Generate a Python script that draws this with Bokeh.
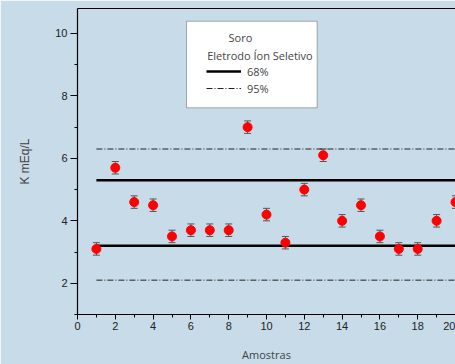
from bokeh.plotting import figure
from bokeh.models import (Range1d, FixedTicker, LinearAxis, Whisker, TeeHead,
                          ColumnDataSource, Legend, LegendItem, BoxAnnotation, Label)
from bokeh.embed import file_html
from bokeh.resources import INLINE

# ---- data ----
amostras = list(range(1, 21))
k_meq = [3.1, 5.7, 4.6, 4.5, 3.5, 3.7, 3.7, 3.7, 7.0, 4.2,
         3.3, 5.0, 6.1, 4.0, 4.5, 3.5, 3.1, 3.1, 4.0, 4.6]
erro = [0.2] * 20
lim68 = [3.2, 5.3]
lim95 = [2.1, 6.3]
x_ticks = [0, 2, 4, 6, 8, 10, 12, 14, 16, 18, 20]
x_minor = [1, 3, 5, 7, 9, 11, 13, 15, 17, 19]
y_ticks = [2, 4, 6, 8, 10]
y_minor = [1, 3, 5, 7, 9]

BG = "#c7dbe8"

p = figure(width=455, height=364, output_backend="svg", toolbar_location=None,
           x_range=Range1d(0, 20.0), y_range=Range1d(1, 10.8),
           min_border_left=77, min_border_right=0, min_border_top=8,
           min_border_bottom=47)
p.background_fill_color = BG
p.border_fill_color = BG
p.outline_line_color = None
p.grid.visible = False

# axes styling
for ax in (p.xaxis[0], p.yaxis[0]):
    ax.axis_line_color = "black"
    ax.axis_line_width = 1.2
    ax.major_tick_line_color = "black"
    ax.minor_tick_line_color = "black"
    ax.major_tick_in = 0
    ax.minor_tick_in = 0
    ax.major_label_text_font = "Liberation Sans"
    ax.major_label_text_font_size = "11px"
    ax.major_label_text_color = "#222222"

p.xaxis[0].ticker = FixedTicker(ticks=x_ticks, minor_ticks=x_minor)
p.xaxis[0].major_tick_out = 5
p.xaxis[0].minor_tick_out = 3
p.xaxis[0].major_label_standoff = 2
p.xaxis[0].axis_label = "Amostras"
p.xaxis[0].axis_label_text_font = "Open Sans"
p.xaxis[0].axis_label_text_font_style = "normal"
p.xaxis[0].axis_label_text_font_size = "11px"
p.xaxis[0].axis_label_standoff = 14

p.yaxis[0].ticker = FixedTicker(ticks=y_ticks, minor_ticks=y_minor)
p.yaxis[0].major_tick_out = 7
p.yaxis[0].minor_tick_out = 3
p.yaxis[0].major_label_standoff = 3
p.yaxis[0].axis_label = "K mEq/L"
p.yaxis[0].axis_label_text_font = "Liberation Sans"
p.yaxis[0].axis_label_text_font_style = "normal"
p.yaxis[0].axis_label_text_font_size = "12px"
p.yaxis[0].axis_label_standoff = 20

top_axis = LinearAxis(ticker=FixedTicker(ticks=[]), major_label_text_font_size="0px",
                      major_label_standoff=0, axis_line_color="black",
                      axis_line_width=1.2, major_tick_line_color=None,
                      minor_tick_line_color=None)
p.add_layout(top_axis, "above")

# limit lines
x0 = min(amostras)
x1 = max(amostras) + 1
src68 = ColumnDataSource(dict(x0=[x0] * len(lim68), x1=[x1] * len(lim68), y=lim68))
src95 = ColumnDataSource(dict(x0=[x0] * len(lim95), x1=[x1] * len(lim95), y=lim95))
r68 = p.segment(x0="x0", x1="x1", y0="y", y1="y", source=src68,
                line_color="black", line_width=2.6)
r95 = p.segment(x0="x0", x1="x1", y0="y", y1="y", source=src95,
                line_color="#222222", line_width=1, line_dash="6 2 1 2")

# error bars
src = ColumnDataSource(dict(x=amostras, y=k_meq,
                            up=[v + e for v, e in zip(k_meq, erro)],
                            lo=[v - e for v, e in zip(k_meq, erro)]))
wh = Whisker(base="x", upper="up", lower="lo", source=src,
             line_color="#555555", line_width=1,
             upper_head=TeeHead(size=7, line_color="#555555", line_width=1),
             lower_head=TeeHead(size=7, line_color="#555555", line_width=1))
p.add_layout(wh)

p.scatter(x="x", y="y", source=src, size=9, fill_color="red", line_color="red")

# legend box
box = BoxAnnotation(left=5.77, right=12.68, top=10.39, bottom=7.62,
                    fill_color="white", fill_alpha=1.0,
                    line_color="black", line_width=1)
p.add_layout(box)
p.add_layout(Label(x=7.99, y=9.88, text="Soro", text_baseline="middle",
                   text_font="Open Sans", text_font_size="11px"))
p.add_layout(Label(x=6.86, y=9.31, text="Eletrodo Íon Seletivo", text_baseline="middle",
                   text_font="Open Sans", text_font_size="11px"))

legend = Legend(items=[LegendItem(label="68%", renderers=[r68]),
                       LegendItem(label="95%", renderers=[r95])],
                location=(129, 218), glyph_width=35, glyph_height=16,
                label_height=16, label_standoff=6, spacing=1, padding=0, margin=0,
                background_fill_alpha=0, border_line_color=None,
                label_text_font="Open Sans", label_text_font_size="11px")
p.add_layout(legend)

open("out.html", "w").write(file_html(p, INLINE))
